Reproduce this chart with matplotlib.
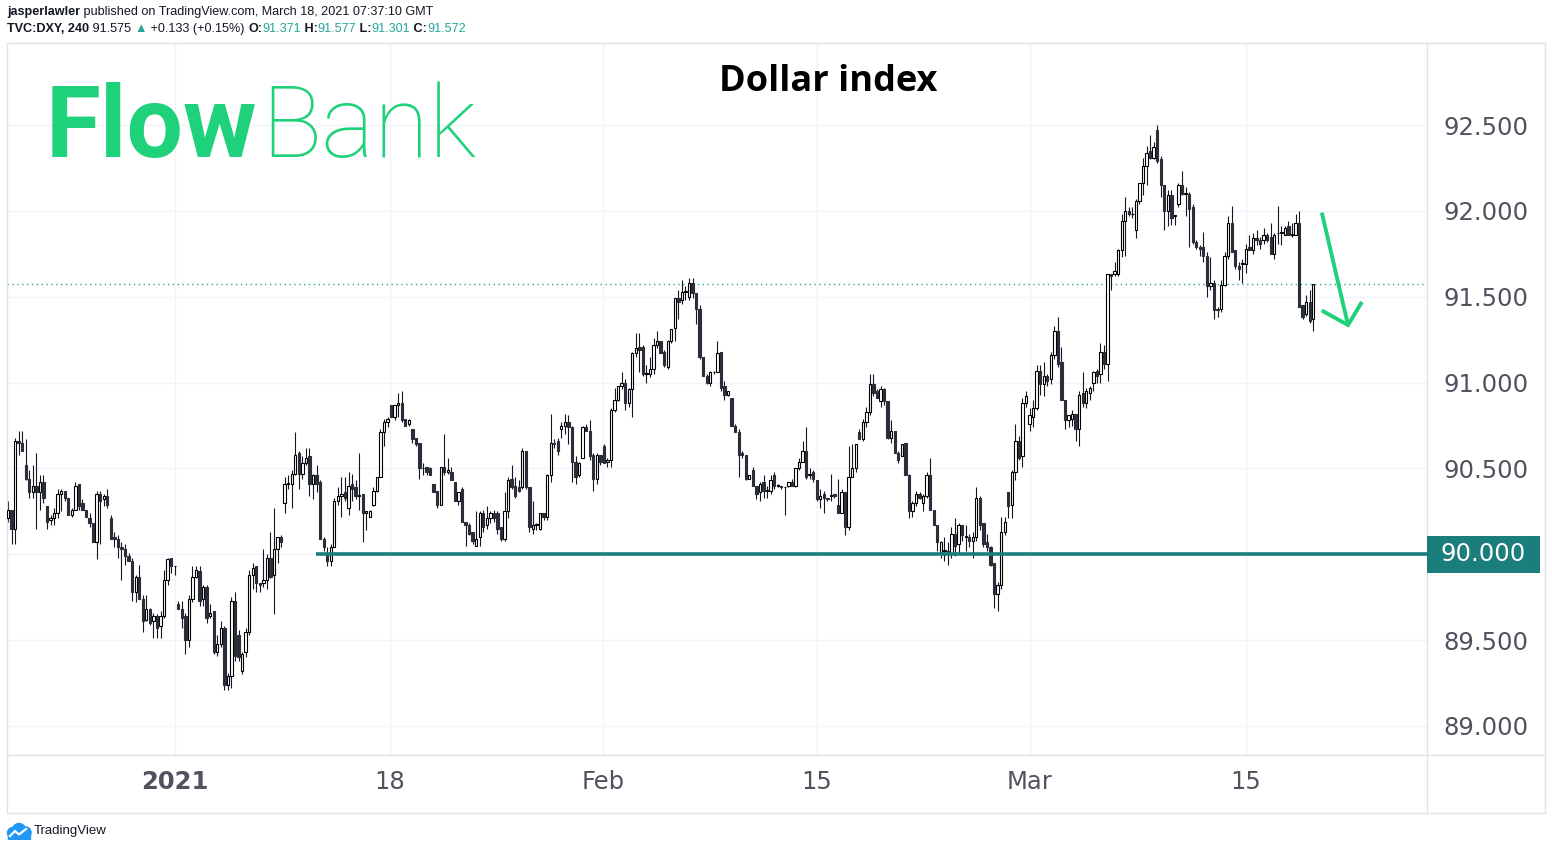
"""
Dollar index (DXY, 4h candles) - TradingView style chart
"""

import numpy as np
import matplotlib
matplotlib.use('Agg')
import matplotlib.pyplot as plt
from matplotlib.patches import Rectangle, Circle
from matplotlib.lines import Line2D
from matplotlib.transforms import blended_transform_factory
from matplotlib.ticker import FuncFormatter

# ============================================================
# data (4h candles)
# ============================================================
opens = [
    90.21, 90.26, 90.15, 90.66, 90.65, 90.52, 90.44, 90.36, 90.40, 90.36,
    90.42, 90.28, 90.20, 90.21, 90.24, 90.35, 90.37, 90.33, 90.23, 90.26,
    90.41, 90.30, 90.26, 90.21, 90.18, 90.07, 90.35, 90.32, 90.34, 90.21,
    90.10, 90.09, 90.04, 90.03, 89.99, 89.96, 89.78, 89.87, 89.74, 89.62,
    89.68, 89.61, 89.64, 89.58, 89.64, 89.85, 89.98, 89.93, 89.71, 89.68,
    89.64, 89.50, 89.74, 89.87, 89.90, 89.74, 89.81, 89.64, 89.67, 89.43,
    89.48, 89.57, 89.24, 89.29, 89.73, 89.53, 89.32, 89.43, 89.55, 89.88,
    89.93, 89.83, 89.83, 89.85, 89.98, 89.88, 90.03, 90.10, 90.30, 90.41,
    90.41, 90.47, 90.59, 90.47, 90.53, 90.57, 90.41, 90.46, 90.42, 90.09,
    90.01, 89.96, 90.04, 90.31, 90.34, 90.36, 90.27, 90.41, 90.39, 90.34,
    90.35, 90.24, 90.22, 90.29, 90.37, 90.45, 90.71, 90.77, 90.87, 90.80,
    90.87, 90.88, 90.79, 90.76, 90.73, 90.68, 90.65, 90.50, 90.51, 90.50,
    90.41, 90.37, 90.29, 90.51, 90.48, 90.48, 90.42, 90.31, 90.38, 90.19,
    90.17, 90.13, 90.05, 90.10, 90.24, 90.17, 90.21, 90.24, 90.24, 90.16,
    90.09, 90.25, 90.44, 90.40, 90.39, 90.39, 90.60, 90.39, 90.15, 90.17,
    90.15, 90.24, 90.22, 90.46, 90.65, 90.66, 90.73, 90.75, 90.77, 90.74,
    90.54, 90.46, 90.56, 90.74, 90.72, 90.58, 90.44, 90.58, 90.63, 90.54,
    90.55, 90.84, 90.90, 90.98, 91.00, 90.88, 90.96, 91.17, 91.21, 91.21,
    91.05, 91.05, 91.08, 91.22, 91.24, 91.18, 91.09, 91.24, 91.32, 91.49,
    91.48, 91.53, 91.50, 91.58, 91.52, 91.43, 91.15, 91.04, 91.00, 91.06,
    91.06, 91.18, 90.98, 90.93, 90.91, 90.75, 90.71, 90.59, 90.58, 90.44,
    90.49, 90.40, 90.36, 90.42, 90.37, 90.37, 90.46, 90.40, 90.40, 90.39,
    90.40, 90.42, 90.40, 90.50, 90.54, 90.60, 90.46, 90.48, 90.43, 90.32,
    90.35, 90.33, 90.34, 90.35, 90.29, 90.24, 90.36, 90.16, 90.45, 90.50,
    90.71, 90.67, 90.77, 90.83, 90.99, 90.95, 90.89, 90.96, 90.89, 90.68,
    90.72, 90.59, 90.57, 90.65, 90.46, 90.25, 90.30, 90.35, 90.30, 90.34,
    90.46, 90.26, 90.17, 90.00, 90.02, 90.02, 90.01, 90.12, 90.06, 90.17,
    90.10, 90.10, 90.08, 90.10, 90.33, 90.18, 90.07, 90.04, 89.95, 89.77,
    89.82, 90.13, 90.36, 90.29, 90.48, 90.66, 90.57, 90.88, 90.76, 90.80,
    90.85, 91.07, 90.99, 91.04, 91.02, 91.16, 91.30, 91.12, 90.90, 90.78,
    90.79, 90.82, 90.73, 90.94, 90.88, 90.94, 91.00, 91.07, 91.05, 91.18,
    91.11, 91.63, 91.63, 91.63, 91.77, 91.94, 92.00, 91.98, 91.89, 92.06,
    92.16, 92.26, 92.35, 92.31, 92.47, 92.30, 92.15, 92.00, 92.09, 91.97,
    92.04, 92.15, 92.10, 92.10, 92.02, 91.82, 91.79, 91.79, 91.74, 91.56,
    91.58, 91.43, 91.43, 91.57, 91.74, 91.93, 91.77, 91.68, 91.69, 91.69,
    91.79, 91.77, 91.84, 91.83, 91.83, 91.86, 91.85, 91.75, 91.87, 91.87,
    91.86, 91.91, 91.86, 91.86, 91.93, 91.45, 91.40, 91.47, 91.371,
]
highs = [
    90.31, 90.26, 90.68, 90.72, 90.72, 90.67, 90.49, 90.52, 90.59, 90.46,
    90.46, 90.28, 90.23, 90.27, 90.38, 90.38, 90.37, 90.33, 90.27, 90.42,
    90.41, 90.32, 90.26, 90.24, 90.18, 90.37, 90.37, 90.35, 90.38, 90.23,
    90.13, 90.11, 90.07, 90.06, 90.01, 89.98, 89.88, 89.94, 89.76, 89.76,
    89.69, 89.66, 89.65, 89.67, 89.91, 89.98, 89.98, 89.93, 89.73, 89.73,
    89.66, 89.76, 89.93, 89.93, 89.93, 89.82, 89.82, 89.71, 89.67, 89.53,
    89.61, 89.58, 89.31, 89.75, 89.78, 89.56, 89.43, 89.57, 89.91, 89.95,
    89.93, 89.83, 90.03, 90.00, 90.13, 90.27, 90.10, 90.11, 90.45, 90.46,
    90.49, 90.71, 90.60, 90.57, 90.62, 90.62, 90.47, 90.52, 90.43, 90.10,
    90.04, 90.06, 90.33, 90.39, 90.45, 90.45, 90.48, 90.47, 90.43, 90.59,
    90.35, 90.25, 90.26, 90.39, 90.45, 90.73, 90.79, 90.80, 90.87, 90.87,
    90.94, 90.95, 90.79, 90.79, 90.73, 90.68, 90.65, 90.53, 90.51, 90.51,
    90.41, 90.37, 90.51, 90.70, 90.56, 90.51, 90.42, 90.36, 90.39, 90.19,
    90.18, 90.13, 90.25, 90.25, 90.26, 90.28, 90.25, 90.26, 90.25, 90.16,
    90.36, 90.45, 90.52, 90.45, 90.43, 90.62, 90.60, 90.39, 90.31, 90.18,
    90.24, 90.24, 90.47, 90.82, 90.67, 90.68, 90.77, 90.82, 90.81, 90.75,
    90.57, 90.54, 90.75, 90.76, 90.78, 90.59, 90.59, 90.58, 90.64, 90.56,
    90.85, 90.97, 90.98, 91.06, 91.02, 90.97, 91.18, 91.29, 91.29, 91.22,
    91.10, 91.15, 91.26, 91.30, 91.24, 91.19, 91.25, 91.31, 91.49, 91.54,
    91.60, 91.56, 91.61, 91.61, 91.52, 91.45, 91.15, 91.05, 91.07, 91.07,
    91.24, 91.18, 91.01, 90.95, 90.91, 90.76, 90.73, 90.60, 90.58, 90.46,
    90.51, 90.40, 90.42, 90.46, 90.40, 90.46, 90.48, 90.41, 90.40, 90.39,
    90.42, 90.44, 90.50, 90.56, 90.66, 90.74, 90.50, 90.49, 90.43, 90.38,
    90.37, 90.33, 90.47, 90.35, 90.44, 90.38, 90.36, 90.63, 90.64, 90.64,
    90.73, 90.79, 90.86, 91.05, 91.05, 90.96, 90.98, 90.97, 90.89, 90.78,
    90.72, 90.60, 90.64, 90.65, 90.47, 90.31, 90.37, 90.36, 90.35, 90.48,
    90.56, 90.26, 90.17, 90.08, 90.10, 90.07, 90.16, 90.21, 90.18, 90.17,
    90.17, 90.12, 90.13, 90.39, 90.34, 90.18, 90.12, 90.05, 89.95, 89.84,
    90.22, 90.22, 90.36, 90.49, 90.76, 90.69, 90.91, 90.95, 90.85, 90.90,
    91.10, 91.10, 91.12, 91.05, 91.18, 91.33, 91.38, 91.21, 90.90, 90.81,
    90.84, 90.82, 90.95, 91.06, 90.97, 90.98, 91.07, 91.08, 91.23, 91.22,
    91.63, 91.63, 91.70, 91.78, 91.98, 92.08, 92.02, 92.02, 92.07, 92.16,
    92.31, 92.38, 92.44, 92.40, 92.50, 92.32, 92.15, 92.12, 92.12, 91.97,
    92.16, 92.23, 92.14, 92.11, 92.04, 91.83, 91.80, 91.88, 91.76, 91.73,
    91.60, 91.44, 91.60, 91.76, 91.97, 92.03, 91.77, 91.70, 91.72, 91.81,
    91.86, 91.87, 91.89, 91.85, 91.90, 91.87, 91.93, 91.87, 92.03, 91.91,
    91.91, 91.94, 91.93, 91.98, 92.00, 91.45, 91.51, 91.54, 91.577,
]
lows = [
    90.19, 90.06, 90.06, 90.58, 90.60, 90.43, 90.33, 90.33, 90.15, 90.26,
    90.30, 90.15, 90.17, 90.17, 90.21, 90.25, 90.31, 90.23, 90.22, 90.26,
    90.26, 90.26, 90.22, 90.16, 90.07, 89.97, 90.06, 90.28, 90.27, 90.09,
    90.04, 89.98, 89.85, 89.94, 89.96, 89.73, 89.72, 89.74, 89.55, 89.61,
    89.59, 89.51, 89.51, 89.51, 89.63, 89.82, 89.89, 89.88, 89.68, 89.57,
    89.42, 89.46, 89.72, 89.86, 89.70, 89.70, 89.60, 89.63, 89.42, 89.41,
    89.46, 89.21, 89.21, 89.22, 89.38, 89.38, 89.30, 89.40, 89.53, 89.80,
    89.78, 89.78, 89.81, 89.80, 89.86, 89.65, 89.95, 90.04, 90.24, 90.38,
    90.27, 90.46, 90.38, 90.44, 90.52, 90.34, 90.32, 90.36, 90.09, 90.02,
    89.93, 89.93, 90.04, 90.29, 90.22, 90.31, 90.23, 90.31, 90.32, 90.26,
    90.07, 90.14, 90.22, 90.28, 90.36, 90.45, 90.63, 90.74, 90.80, 90.78,
    90.80, 90.77, 90.75, 90.75, 90.65, 90.63, 90.44, 90.46, 90.46, 90.46,
    90.36, 90.27, 90.29, 90.46, 90.47, 90.43, 90.31, 90.29, 90.19, 90.05,
    90.11, 90.06, 90.05, 90.05, 90.13, 90.15, 90.18, 90.19, 90.12, 90.08,
    90.08, 90.21, 90.38, 90.33, 90.36, 90.38, 90.38, 90.13, 90.12, 90.14,
    90.14, 90.20, 90.20, 90.42, 90.62, 90.58, 90.68, 90.70, 90.64, 90.42,
    90.41, 90.45, 90.56, 90.72, 90.55, 90.37, 90.41, 90.52, 90.53, 90.51,
    90.51, 90.83, 90.89, 90.96, 90.84, 90.86, 90.80, 91.15, 91.06, 91.04,
    91.00, 91.03, 91.05, 91.20, 91.17, 91.09, 91.08, 91.23, 91.24, 91.37,
    91.46, 91.48, 91.48, 91.49, 91.34, 91.14, 91.04, 90.99, 90.98, 91.05,
    91.06, 90.95, 90.90, 90.92, 90.75, 90.71, 90.45, 90.56, 90.43, 90.44,
    90.40, 90.32, 90.31, 90.33, 90.33, 90.35, 90.38, 90.39, 90.38, 90.23,
    90.39, 90.40, 90.39, 90.49, 90.54, 90.44, 90.44, 90.42, 90.31, 90.27,
    90.24, 90.31, 90.31, 90.33, 90.24, 90.24, 90.11, 90.14, 90.45, 90.48,
    90.67, 90.66, 90.74, 90.81, 90.92, 90.91, 90.86, 90.87, 90.67, 90.65,
    90.59, 90.53, 90.57, 90.46, 90.21, 90.22, 90.28, 90.32, 90.25, 90.33,
    90.26, 90.17, 90.02, 89.98, 89.96, 89.94, 89.98, 89.99, 90.01, 90.08,
    90.02, 90.04, 89.98, 90.08, 90.14, 90.04, 90.02, 89.93, 89.69, 89.67,
    89.80, 90.11, 90.21, 90.21, 90.43, 90.55, 90.51, 90.86, 90.72, 90.74,
    90.84, 90.93, 90.92, 90.98, 90.99, 91.14, 91.09, 90.90, 90.73, 90.74,
    90.75, 90.66, 90.63, 90.86, 90.85, 90.90, 90.95, 91.00, 91.00, 91.08,
    91.01, 91.54, 91.62, 91.62, 91.73, 91.74, 91.97, 91.96, 91.84, 92.04,
    92.09, 92.15, 92.30, 92.30, 92.28, 92.08, 91.89, 91.91, 91.92, 91.92,
    92.02, 92.09, 91.97, 91.79, 91.81, 91.78, 91.74, 91.70, 91.50, 91.54,
    91.37, 91.38, 91.41, 91.56, 91.72, 91.76, 91.66, 91.60, 91.58, 91.64,
    91.77, 91.75, 91.80, 91.78, 91.81, 91.82, 91.75, 91.72, 91.81, 91.80,
    91.86, 91.86, 91.85, 91.86, 91.44, 91.37, 91.39, 91.35, 91.301,
]
closes = [
    90.26, 90.15, 90.66, 90.65, 90.60, 90.44, 90.36, 90.40, 90.36, 90.42,
    90.33, 90.19, 90.21, 90.24, 90.35, 90.37, 90.33, 90.23, 90.26, 90.40,
    90.28, 90.26, 90.22, 90.18, 90.07, 90.35, 90.31, 90.34, 90.29, 90.09,
    90.09, 90.04, 90.03, 89.99, 89.96, 89.78, 89.87, 89.74, 89.61, 89.68,
    89.60, 89.64, 89.57, 89.64, 89.85, 89.97, 89.93, 89.93, 89.68, 89.63,
    89.50, 89.74, 89.87, 89.91, 89.73, 89.81, 89.63, 89.66, 89.43, 89.48,
    89.57, 89.24, 89.29, 89.73, 89.41, 89.40, 89.42, 89.55, 89.88, 89.92,
    89.83, 89.82, 89.85, 89.98, 89.87, 90.03, 90.10, 90.07, 90.41, 90.41,
    90.47, 90.58, 90.47, 90.53, 90.56, 90.41, 90.46, 90.41, 90.09, 90.04,
    89.96, 90.04, 90.31, 90.34, 90.35, 90.33, 90.40, 90.38, 90.34, 90.34,
    90.24, 90.25, 90.25, 90.37, 90.45, 90.71, 90.77, 90.79, 90.80, 90.87,
    90.88, 90.78, 90.75, 90.78, 90.67, 90.64, 90.50, 90.50, 90.48, 90.46,
    90.36, 90.29, 90.51, 90.48, 90.49, 90.43, 90.31, 90.36, 90.19, 90.17,
    90.12, 90.08, 90.09, 90.24, 90.16, 90.21, 90.24, 90.21, 90.15, 90.09,
    90.25, 90.43, 90.39, 90.34, 90.37, 90.60, 90.39, 90.16, 90.17, 90.17,
    90.24, 90.22, 90.46, 90.65, 90.64, 90.60, 90.75, 90.77, 90.74, 90.54,
    90.45, 90.53, 90.74, 90.72, 90.57, 90.44, 90.58, 90.54, 90.53, 90.55,
    90.84, 90.90, 90.98, 91.00, 90.88, 90.96, 91.17, 91.20, 91.19, 91.05,
    91.05, 91.08, 91.22, 91.24, 91.17, 91.10, 91.24, 91.31, 91.49, 91.47,
    91.53, 91.53, 91.58, 91.52, 91.43, 91.15, 91.04, 91.00, 91.06, 91.06,
    91.17, 90.97, 90.93, 90.95, 90.75, 90.71, 90.58, 90.58, 90.44, 90.46,
    90.40, 90.35, 90.41, 90.37, 90.37, 90.43, 90.40, 90.40, 90.39, 90.39,
    90.42, 90.40, 90.50, 90.54, 90.60, 90.45, 90.47, 90.44, 90.32, 90.34,
    90.33, 90.32, 90.34, 90.34, 90.24, 90.36, 90.16, 90.45, 90.50, 90.64,
    90.67, 90.77, 90.83, 90.99, 90.94, 90.91, 90.96, 90.89, 90.68, 90.72,
    90.59, 90.55, 90.64, 90.46, 90.25, 90.30, 90.35, 90.33, 90.34, 90.46,
    90.26, 90.17, 90.07, 90.07, 90.02, 90.00, 90.12, 90.05, 90.17, 90.11,
    90.10, 90.08, 90.10, 90.33, 90.17, 90.06, 90.04, 89.94, 89.77, 89.82,
    90.13, 90.19, 90.28, 90.48, 90.66, 90.56, 90.88, 90.92, 90.81, 90.85,
    91.07, 90.99, 91.04, 91.01, 91.16, 91.30, 91.11, 90.90, 90.78, 90.81,
    90.82, 90.73, 90.93, 90.88, 90.95, 90.97, 91.06, 91.04, 91.18, 91.11,
    91.63, 91.62, 91.65, 91.77, 91.94, 92.00, 91.98, 91.98, 92.06, 92.16,
    92.26, 92.34, 92.31, 92.37, 92.29, 92.15, 92.00, 92.09, 91.96, 91.97,
    92.15, 92.10, 92.10, 92.01, 91.82, 91.79, 91.78, 91.74, 91.56, 91.58,
    91.42, 91.42, 91.57, 91.74, 91.93, 91.76, 91.68, 91.66, 91.69, 91.78,
    91.77, 91.84, 91.83, 91.81, 91.86, 91.83, 91.75, 91.86, 91.87, 91.88,
    91.90, 91.86, 91.86, 91.93, 91.44, 91.38, 91.47, 91.36, 91.572,
]

# time axis labels and the candle they fall on
tick_labels = ['2021', '18', 'Feb', '15', 'Mar', '15']
tick_candle = [47.1, 107.7, 167.8, 228.1, 288.1, 349.0]
price_ticks = [89.0, 89.5, 90.0, 90.5, 91.0, 91.5, 92.0, 92.5]

# drawings
SUPPORT = 90.0
SUPPORT_START = 86.8           # candle where the support line begins
ARROW_LINE = ([370.4, 377.8], [91.99, 91.335])
ARROW_HEAD = ([370.4, 377.8, 381.7], [91.42, 91.335, 91.47])

# ============================================================
# style
# ============================================================
W, H = 1552, 850
TEAL = '#1b7d7c'
GREEN = '#1fd17a'
FRAME = '#e0e3eb'
GRID = '#f0f3fa'
AXIS_TXT = '#50535e'
DOWN = '#2a2e39'
TXT_FONT = ['Liberation Sans', 'DejaVu Sans']

fig = plt.figure(figsize=(W / 100, H / 100), dpi=100)
fig.patch.set_facecolor('white')

# main pane: x 7..1427 px, y 43..755 px
ax = fig.add_axes([7 / W, 1 - 755 / H, 1420 / W, 712 / H])

O = np.array(opens)
Hh = np.array(highs)
L = np.array(lows)
C = np.array(closes)
x = np.arange(len(C))
up = C >= O

ax.vlines(x, L, Hh, color='#131722', lw=0.8, zorder=2)
body_lo = np.minimum(O, C)
body_h = np.maximum(np.abs(C - O), 0.004)
ax.bar(x[up], body_h[up], bottom=body_lo[up], width=0.66, color='white',
       edgecolor='#000000', linewidth=0.8, zorder=3)
ax.bar(x[~up], body_h[~up], bottom=body_lo[~up], width=0.66, color=DOWN,
       edgecolor=DOWN, linewidth=0.8, zorder=3)

ax.set_xlim(-0.28, 400.06)
ax.set_ylim(88.831, 92.978)

# last price dotted line
ax.axhline(C[-1], color='#26a69a', lw=1, ls=(0, (1, 2.5)), zorder=1.5)

# support line + its price label
ax.hlines(SUPPORT, SUPPORT_START, ax.get_xlim()[1], color=TEAL, lw=2.6, zorder=4)
tr = blended_transform_factory(ax.transAxes, ax.transData)
box_h = 37 / 171.7
ax.add_patch(Rectangle((1.0, SUPPORT - box_h / 2), 113 / 1420, box_h, transform=tr,
                       facecolor=TEAL, edgecolor='none', clip_on=False, zorder=6))
ax.text(1.0 + 56.5 / 1420, SUPPORT, f'{SUPPORT:.3f}', transform=tr, ha='center',
        va='center', color='white', fontsize=17.5, clip_on=False, zorder=7)

# arrow drawing
ax.plot(*ARROW_LINE, color=GREEN, lw=2.8, solid_capstyle='butt', zorder=5, clip_on=False)
ax.plot(*ARROW_HEAD, color=GREEN, lw=2.8, solid_capstyle='butt',
        solid_joinstyle='miter', zorder=5, clip_on=False)

# axes, ticks, grid
ax.set_yticks(price_ticks)
ax.yaxis.set_major_formatter(FuncFormatter(lambda v, p: '' if abs(v - SUPPORT) < 1e-6 else f'{v:.3f}'))
ax.set_xticks(tick_candle)
ax.set_xticklabels(tick_labels)
ax.xaxis.get_ticklabels()[0].set_fontweight('bold')
ax.tick_params(axis='y', left=False, right=True, labelleft=False, labelright=True,
               length=0, pad=12, labelsize=17.5, labelcolor=AXIS_TXT)
ax.tick_params(axis='x', length=0, pad=11, labelsize=17.5, labelcolor=AXIS_TXT)
ax.grid(True, color=GRID, lw=1)
ax.set_axisbelow(True)
for sp in ax.spines.values():
    sp.set_color(FRAME)
    sp.set_linewidth(1)


# frame around time / price axis
def px_line(xs, ys):
    fig.add_artist(Line2D([v / W for v in xs], [1 - v / H for v in ys], color=FRAME, lw=1))


px_line([6.5, 1545], [813, 813])
px_line([1545, 1545], [43, 813])
px_line([1427, 1545], [43, 43])
px_line([1427, 1545], [755, 755])
px_line([1427, 1427], [755, 813])
px_line([6.5, 6.5], [755, 813])

# ============================================================
# texts
# ============================================================
renderer = fig.canvas.get_renderer()


def text_runs(x_px, y_px, runs, size):
    for s, color, weight in runs:
        t = fig.text(x_px / W, 1 - y_px / H, s, color=color, fontweight=weight,
                     fontsize=size, va='center', family=TXT_FONT)
        x_px = t.get_window_extent(renderer).x1


text_runs(7, 12, [('jasperlawler', '#131722', 'bold'),
                  (' published on TradingView.com, March 18, 2021 07:37:10 GMT', '#131722', 'normal')], 9.1)
text_runs(7, 29, [('TVC:DXY, 240', '#131722', 'bold'),
                  (' 91.575 ', '#131722', 'normal'),
                  ('▲', '#26a69a', 'normal'),
                  (' +0.133 (+0.15%) ', '#131722', 'normal'),
                  ('O:', '#131722', 'bold'), (f'{opens[-1]:.3f}', '#26a69a', 'normal'),
                  (' H:', '#131722', 'bold'), (f'{highs[-1]:.3f}', '#26a69a', 'normal'),
                  (' L:', '#131722', 'bold'), (f'{lows[-1]:.3f}', '#26a69a', 'normal'),
                  (' C:', '#131722', 'bold'), (f'{closes[-1]:.3f}', '#26a69a', 'normal')], 9.1)

# FlowBank logo
t = fig.text(46 / W, 1 - 157 / H, 'Flow', color=GREEN, fontsize=72, fontweight='bold',
             family=['Roboto', 'DejaVu Sans'], va='baseline')
x1 = t.get_window_extent(renderer).x1
fig.text((x1 + 4) / W, 1 - 157 / H, 'Bank', color=GREEN, fontsize=72, fontweight='light',
         family=['Roboto', 'DejaVu Sans'], va='baseline')

# title
fig.text(828 / W, 1 - 82 / H, 'Dollar index', ha='center', va='center', fontsize=26,
         fontweight='bold', family=['Open Sans', 'DejaVu Sans'], color='#000000')

# TradingView logo (bottom left)
iax = fig.add_axes([6 / W, 1 - 840 / H, 26 / W, 18 / H])
iax.set_xlim(0, 26)
iax.set_ylim(0, 18)
iax.axis('off')
for cx, cy, r in [(7, 7, 5.5), (13, 10, 6.5), (19.5, 7.5, 5.5)]:
    iax.add_patch(Circle((cx, cy), r, color='#2196f3'))
iax.add_patch(Rectangle((2, 1.5), 22, 6, color='#2196f3'))
iax.plot([4, 9, 13, 20], [4, 9, 5.5, 11], color='white', lw=1.6)
fig.text(34 / W, 1 - 831 / H, 'TradingView', fontsize=9.5, va='center', color='#131722',
         family=TXT_FONT)

plt.savefig('out.png', dpi=100)
